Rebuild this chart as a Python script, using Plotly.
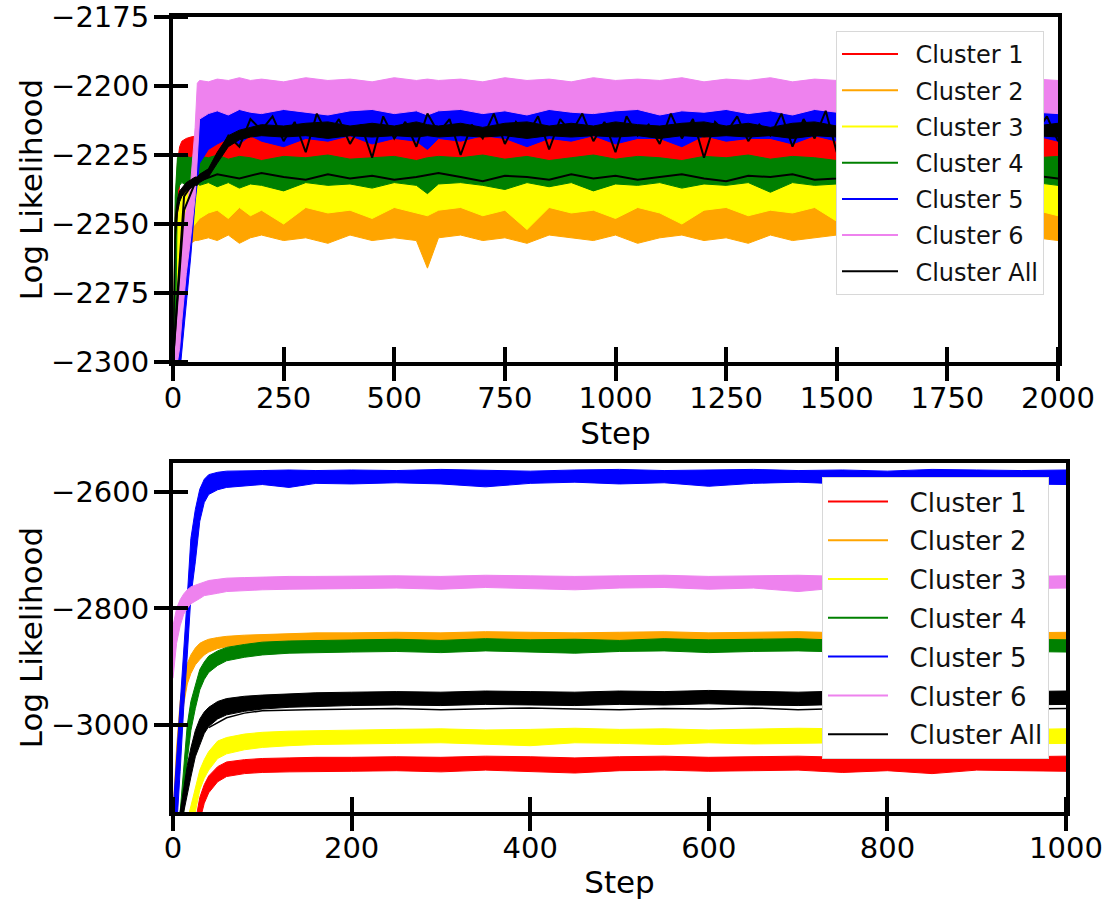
import plotly.graph_objects as go

# ---------------- labels / colours ----------------
CLUSTERS = ["Cluster 1", "Cluster 2", "Cluster 3", "Cluster 4", "Cluster 5", "Cluster 6", "Cluster All"]
COLORS = ["#ff0000", "#ffa500", "#ffff00", "#008000", "#0000ff", "#ee82ee", "#000000"]

TOP_X_TICKS = [0, 250, 500, 750, 1000, 1250, 1500, 1750, 2000]
TOP_Y_TICKS = [-2300, -2275, -2250, -2225, -2200, -2175]
BOT_X_TICKS = [0, 200, 400, 600, 800, 1000]
BOT_Y_TICKS = [-3000, -2800, -2600]

# ---------------- top panel: envelope of each cluster's trace ----------------
TOP_STEPS = [0, 5, 10, 15, 20, 30, 40, 50, 55, 60, 80, 100, 125, 150, 175, 200, 250, 300, 350,
             400, 450, 500, 550, 575, 600] + list(range(650, 2001, 50))

T_RED_UP = [-2300, -2245, -2228, -2222, -2220, -2219, -2218.5, -2218, -2218, -2218,
            -2217, -2218, -2217, -2217.5, -2218, -2217, -2217.5, -2218, -2217, -2217.5, -2218, -2217, -2217.5, -2218, -2217,
            -2217.5, -2218, -2217, -2217.5, -2218, -2217, -2217.5, -2218, -2217, -2217.5, -2218, -2217, -2217.5, -2218,
            -2217, -2217.5, -2218, -2217, -2217.5, -2218, -2217, -2217.5, -2218, -2217, -2217.5, -2218, -2217, -2217.5]
T_RED_LO = [-2310, -2290, -2250, -2235, -2230, -2229, -2228, -2228, -2228, -2228,
            -2228, -2229, -2228, -2228.5, -2229, -2228, -2228.5, -2229, -2228, -2228.5, -2229, -2228, -2228.5, -2229, -2228,
            -2228.5, -2229, -2228, -2228.5, -2229, -2228, -2228.5, -2229, -2228, -2228.5, -2229, -2228, -2228.5, -2229,
            -2228, -2228.5, -2229, -2228, -2228.5, -2229, -2228, -2228.5, -2229, -2228, -2228.5, -2229, -2228, -2228.5]

T_ORANGE_UP = [-2310, -2280, -2262, -2252, -2245, -2240, -2239, -2238, -2238, -2238,
               -2238, -2238.5, -2238, -2238.5, -2238, -2238.5, -2238, -2238.5, -2238, -2238.5, -2238, -2238.5, -2238, -2238.5, -2238,
               -2238.5, -2238, -2238.5, -2238, -2238.5, -2238, -2238.5, -2238, -2238.5, -2238, -2238.5, -2238, -2238.5, -2238,
               -2238.5, -2238, -2238.5, -2238, -2238.5, -2238, -2238.5, -2238, -2238.5, -2238, -2238.5, -2238, -2238.5, -2238]
T_ORANGE_LO = [-2320, -2300, -2285, -2270, -2262, -2258, -2257, -2256, -2256, -2256,
               -2255, -2256, -2254, -2257, -2255, -2254, -2256, -2255, -2257, -2254, -2256, -2255, -2256, -2266, -2255,
               -2254, -2256, -2255, -2257, -2254, -2255, -2256, -2254, -2257, -2255, -2254, -2256, -2255, -2257,
               -2254, -2256, -2255, -2254, -2257, -2255, -2256, -2254, -2255, -2257, -2254, -2256, -2255, -2256]

T_YELLOW_UP = [-2305, -2270, -2250, -2243, -2240, -2237, -2235, -2234, -2233, -2233,
               -2233, -2233.5, -2233, -2232.5, -2233, -2233.5, -2233, -2232.5, -2233, -2233.5, -2233, -2232.5, -2233, -2233.5, -2233,
               -2232.5, -2233, -2233.5, -2233, -2232.5, -2233, -2233.5, -2233, -2232.5, -2233, -2233.5, -2233, -2232.5, -2233,
               -2233.5, -2233, -2232.5, -2233, -2233.5, -2233, -2232.5, -2233, -2233.5, -2233, -2232.5, -2233, -2233.5, -2233]
T_YELLOW_LO = [-2315, -2300, -2275, -2260, -2255, -2254, -2252, -2250, -2249, -2248,
               -2246, -2245, -2248, -2244, -2247, -2245, -2250, -2244, -2246, -2245, -2248, -2244, -2246, -2247, -2245,
               -2244, -2247, -2245, -2252, -2244, -2246, -2245, -2248, -2244, -2246, -2250, -2245, -2244, -2247,
               -2245, -2246, -2244, -2249, -2245, -2246, -2244, -2247, -2245, -2251, -2244, -2246, -2245, -2247]

T_GREEN_UP = [-2300, -2240, -2226, -2225, -2226, -2225.5, -2226, -2225, -2226, -2225.5,
              -2226, -2225, -2226.5, -2225.5, -2226, -2227, -2225.5, -2226, -2225, -2226.5, -2226, -2225.5, -2227, -2226, -2225.5,
              -2226, -2225, -2226.5, -2225.5, -2227, -2226, -2225, -2226.5, -2225.5, -2226, -2227, -2225.5, -2226, -2225,
              -2226.5, -2225.5, -2226, -2227, -2225, -2226, -2225.5, -2226.5, -2226, -2225, -2227, -2225.5, -2226, -2225.5]
T_GREEN_LO = [-2310, -2300, -2238, -2236, -2235, -2236, -2235.5, -2236, -2235, -2236,
              -2235, -2236.5, -2235, -2237, -2235.5, -2236, -2238, -2235, -2236, -2235.5, -2237, -2235, -2236, -2239, -2235.5,
              -2235, -2236, -2237.5, -2235, -2236.5, -2235, -2238, -2235.5, -2236, -2235, -2237, -2235.5, -2236, -2235,
              -2238.5, -2235, -2236, -2235.5, -2237, -2235, -2236.5, -2235, -2236, -2238, -2235, -2236.5, -2235, -2236]

T_BLUE_UP = [-2320, -2315, -2300, -2285, -2272, -2255, -2238, -2220, -2214, -2210,
             -2207, -2206, -2206, -2205, -2206, -2205, -2206, -2205, -2206, -2205, -2206, -2205, -2206, -2205, -2206,
             -2205, -2206, -2205, -2206, -2205, -2206, -2205, -2206, -2205, -2206, -2205, -2206, -2205, -2206,
             -2205, -2206, -2205, -2206, -2205, -2206, -2205, -2206, -2205, -2206, -2205, -2206, -2205, -2206]
T_BLUE_LO = [-2330, -2325, -2315, -2305, -2298, -2280, -2262, -2242, -2235, -2228,
             -2223, -2221, -2219, -2221, -2218, -2220, -2222, -2219, -2220, -2218, -2221, -2219, -2220, -2223, -2219,
             -2220, -2218, -2219, -2222, -2219, -2220, -2218, -2221, -2219, -2219, -2222, -2218, -2220, -2219,
             -2219, -2221, -2218, -2220, -2219, -2222, -2219, -2218, -2220, -2219, -2221, -2219, -2218, -2220]

T_PINK_UP = [-2300, -2290, -2275, -2262, -2255, -2245, -2235, -2215, -2199, -2198,
             -2198.5, -2197.5, -2198, -2197, -2198, -2197.5, -2198.5, -2197, -2198, -2197.5, -2198.5, -2197, -2198, -2197.5, -2198,
             -2197.5, -2198.5, -2197, -2198, -2197.5, -2198.5, -2197, -2198, -2197.5, -2198, -2197, -2198.5, -2197.5, -2198,
             -2197, -2198.5, -2197.5, -2198, -2197, -2198.5, -2197.5, -2198, -2197.5, -2198.5, -2197, -2198, -2197.5, -2198]
T_PINK_LO = [-2310, -2305, -2300, -2295, -2285, -2268, -2255, -2240, -2228, -2212,
             -2210, -2209, -2210.5, -2208.5, -2209.5, -2210, -2208.5, -2209.5, -2210.5, -2209, -2208.5, -2210, -2209, -2210.5, -2209,
             -2208.5, -2210, -2209, -2210.5, -2208.5, -2209.5, -2210, -2209, -2208.5, -2210.5, -2209, -2209.5, -2208.5, -2210,
             -2209, -2210.5, -2208.5, -2209.5, -2210, -2209, -2208.5, -2210.5, -2209, -2209.5, -2210, -2208.5, -2209.5, -2210]

# dense core of the "Cluster All" trace in the top panel
T_ALL_UP = [-2300, -2248, -2241, -2238, -2237, -2235, -2234, -2233, -2233, -2232,
            -2230, -2224, -2218, -2216, -2215, -2214, -2214.5, -2213.5, -2213, -2214.5, -2213.5, -2214.5, -2213, -2214, -2214.5,
            -2213.5, -2215, -2213.5, -2213, -2214.5, -2213.5, -2214.5, -2213, -2214, -2214.5, -2213.5, -2213, -2214.5, -2213.5,
            -2215, -2213.5, -2213, -2214.5, -2213.5, -2214, -2214.5, -2213, -2213.5, -2214.5, -2214, -2213, -2214.5, -2213.5]
T_ALL_LO = [-2310, -2256, -2246, -2242, -2240, -2238, -2237, -2236, -2236, -2235,
            -2233, -2228, -2222, -2219.5, -2218.5, -2218, -2218.5, -2218, -2219, -2218, -2218.5, -2218, -2218.5, -2218, -2218.5,
            -2218, -2218.5, -2218, -2219, -2218, -2218.5, -2218, -2218.5, -2218, -2219, -2218, -2218.5, -2218, -2218.5,
            -2218, -2219, -2218, -2218.5, -2218, -2218.5, -2218, -2219, -2218, -2218.5, -2218, -2218.5, -2218, -2218.5]

# "Cluster All" chains in the top panel (thin noisy lines)
TOP_CHAIN_A_STEPS = list(range(0, 2001, 25))
T_ALL_A = [-2300, -2240, -2234, -2232, -2226, -2218, -2222, -2212, -2216,
           -2211, -2220, -2213, -2224, -2210, -2218, -2212, -2221, -2214, -2226, -2211, -2219,
           -2213, -2222, -2210, -2217, -2212, -2225, -2214, -2219, -2210, -2221, -2213, -2218,
           -2211, -2223, -2212, -2217, -2210, -2220, -2213, -2224, -2211, -2218, -2214, -2221,
           -2210, -2219, -2212, -2226, -2213, -2217, -2211, -2220, -2214, -2218, -2210, -2222,
           -2212, -2219, -2209, -2224, -2212, -2218, -2211, -2221, -2213, -2217, -2210, -2220,
           -2212, -2225, -2211, -2218, -2213, -2221, -2210, -2219, -2212, -2217, -2211, -2220]
TOP_CHAIN_B_STEPS = [0, 25, 50] + list(range(100, 2001, 50))
T_ALL_B = [-2300, -2245, -2235,
           -2232, -2233.5, -2231.5, -2233, -2234, -2232, -2233.5, -2232.5, -2234, -2233, -2231.5, -2233, -2234.5,
           -2232.5, -2233, -2234, -2232, -2233.5, -2232.5, -2234, -2233, -2232, -2233.5, -2234.5, -2232.5, -2233,
           -2232, -2234, -2233.5, -2232.5, -2233, -2234, -2232, -2233.5, -2232.5, -2234, -2233, -2232.5, -2233.5]

# ---------------- bottom panel ----------------
BOT_STEPS = [0, 4, 8, 12, 16, 20, 25, 30, 35, 40, 50, 60, 80, 100, 130, 160] + list(range(200, 1001, 50))

B_RED_UP = [-3300, -3290, -3280, -3260, -3240, -3210, -3165, -3125, -3103, -3088, -3072, -3064, -3060, -3058, -3057, -3056,
            -3056, -3055, -3056, -3054, -3055, -3057, -3055, -3054, -3056, -3055, -3054, -3056, -3055, -3054, -3056, -3055, -3054]
B_RED_LO = [-3350, -3340, -3330, -3320, -3300, -3270, -3220, -3165, -3135, -3117, -3098, -3089, -3084, -3082, -3081, -3080,
            -3080, -3079, -3081, -3078, -3080, -3083, -3079, -3078, -3080, -3079, -3078, -3082, -3079, -3084, -3078, -3079, -3080]

B_ORANGE_UP = [-3150, -3040, -2960, -2920, -2895, -2880, -2868, -2860, -2856, -2853, -2850, -2848, -2846, -2845, -2843, -2842,
               -2842, -2841, -2842, -2840, -2841, -2842, -2841, -2840, -2842, -2841, -2840, -2842, -2841, -2840, -2841, -2842, -2841]
B_ORANGE_LO = [-3250, -3150, -3030, -2965, -2930, -2912, -2897, -2888, -2880, -2875, -2869, -2866, -2862, -2860, -2858, -2858,
               -2857, -2857, -2858, -2856, -2857, -2858, -2857, -2856, -2858, -2857, -2856, -2858, -2857, -2856, -2857, -2858, -2857]

B_YELLOW_UP = [-3250, -3230, -3220, -3200, -3165, -3140, -3105, -3078, -3060, -3046, -3028, -3022, -3016, -3013, -3011, -3010,
               -3009, -3008, -3007, -3009, -3008, -3006, -3008, -3007, -3009, -3008, -3006, -3007, -3008, -3009, -3007, -3008, -3007]
B_YELLOW_LO = [-3300, -3290, -3280, -3260, -3230, -3190, -3150, -3112, -3092, -3078, -3058, -3050, -3043, -3039, -3036, -3034,
               -3033, -3032, -3031, -3033, -3036, -3031, -3032, -3034, -3031, -3033, -3032, -3031, -3034, -3032, -3031, -3033, -3032]

B_GREEN_UP = [-3200, -3170, -3150, -3070, -3000, -2960, -2930, -2905, -2892, -2882, -2873, -2867, -2862, -2858, -2856, -2855,
              -2854, -2853, -2855, -2852, -2854, -2853, -2855, -2852, -2854, -2853, -2852, -2855, -2853, -2854, -2852, -2853, -2854]
B_GREEN_LO = [-3260, -3230, -3200, -3150, -3060, -3010, -2972, -2940, -2922, -2910, -2898, -2890, -2884, -2880, -2877, -2876,
              -2875, -2874, -2876, -2873, -2875, -2877, -2874, -2873, -2876, -2874, -2873, -2875, -2874, -2876, -2873, -2874, -2875]

B_BLUE_UP = [-3150, -3060, -2960, -2870, -2780, -2680, -2630, -2595, -2578, -2570, -2566, -2564, -2563, -2563, -2562, -2563,
             -2562, -2563, -2561, -2562, -2564, -2562, -2561, -2563, -2562, -2561, -2563, -2562, -2564, -2561, -2562, -2563, -2562]
B_BLUE_LO = [-3200, -3180, -3080, -2970, -2880, -2780, -2720, -2650, -2618, -2604, -2596, -2592, -2589, -2587, -2592, -2585,
             -2586, -2584, -2586, -2591, -2585, -2583, -2586, -2584, -2590, -2585, -2583, -2586, -2584, -2585, -2583, -2586, -2587]

B_PINK_UP = [-2830, -2800, -2785, -2775, -2768, -2763, -2760, -2757, -2754, -2752, -2750, -2748, -2747, -2746, -2745, -2745,
             -2744, -2744, -2745, -2743, -2744, -2745, -2744, -2743, -2745, -2744, -2743, -2745, -2744, -2744, -2743, -2745, -2744]
B_PINK_LO = [-2920, -2860, -2830, -2810, -2800, -2792, -2787, -2783, -2778, -2776, -2774, -2771, -2769, -2768, -2767, -2766,
             -2766, -2765, -2767, -2764, -2766, -2768, -2765, -2764, -2767, -2765, -2771, -2764, -2766, -2765, -2764, -2766, -2765]

B_ALL_UP = [-3200, -3180, -3150, -3110, -3070, -3040, -3010, -2990, -2978, -2970, -2960, -2955, -2951, -2949, -2947, -2945,
            -2944, -2943, -2944, -2942, -2943, -2944, -2942, -2943, -2941, -2943, -2944, -2942, -2943, -2942, -2944, -2943, -2942]
B_ALL_LO = [-3260, -3240, -3200, -3150, -3120, -3090, -3055, -3035, -3015, -3003, -2990, -2983, -2977, -2973, -2970, -2968,
            -2967, -2966, -2967, -2965, -2966, -2967, -2965, -2966, -2964, -2966, -2967, -2965, -2966, -2965, -2967, -2966, -2965]
BOT_THIN_STEPS = [40, 60, 80, 100, 150] + list(range(200, 1001, 50))
B_ALL_THIN = [-3005, -2988, -2980, -2976, -2974,
              -2973, -2972, -2974, -2973, -2971, -2973, -2974, -2972, -2973, -2971, -2974, -2972, -2973, -2974, -2972, -2973, -2972]

TOP_BANDS = [(T_RED_UP, T_RED_LO), (T_ORANGE_UP, T_ORANGE_LO), (T_YELLOW_UP, T_YELLOW_LO),
             (T_GREEN_UP, T_GREEN_LO), (T_BLUE_UP, T_BLUE_LO), (T_PINK_UP, T_PINK_LO), (T_ALL_UP, T_ALL_LO)]
BOT_BANDS = [(B_RED_UP, B_RED_LO), (B_ORANGE_UP, B_ORANGE_LO), (B_YELLOW_UP, B_YELLOW_LO),
             (B_GREEN_UP, B_GREEN_LO), (B_BLUE_UP, B_BLUE_LO), (B_PINK_UP, B_PINK_LO), (B_ALL_UP, B_ALL_LO)]

for up, lo in TOP_BANDS:
    assert len(up) == len(TOP_STEPS) and len(lo) == len(TOP_STEPS)
for up, lo in BOT_BANDS:
    assert len(up) == len(BOT_STEPS) and len(lo) == len(BOT_STEPS)
assert len(T_ALL_A) == len(TOP_CHAIN_A_STEPS)
assert len(T_ALL_B) == len(TOP_CHAIN_B_STEPS)
assert len(B_ALL_THIN) == len(BOT_THIN_STEPS)

FONT = "DejaVu Sans"
fig = go.Figure()


def band(steps, up, lo, color, xa, ya):
    fig.add_trace(go.Scatter(
        x=list(steps) + list(steps)[::-1], y=list(up) + list(lo)[::-1],
        mode="lines", fill="toself", fillcolor=color,
        line=dict(color=color, width=1), showlegend=False, hoverinfo="skip",
        xaxis=xa, yaxis=ya))


# top panel
for i, (up, lo) in enumerate(TOP_BANDS):
    band(TOP_STEPS, up, lo, COLORS[i], "x", "y")
fig.add_trace(go.Scatter(x=TOP_CHAIN_B_STEPS, y=T_ALL_B, mode="lines", line=dict(color="black", width=2),
                         showlegend=False, hoverinfo="skip", xaxis="x", yaxis="y"))
fig.add_trace(go.Scatter(x=TOP_CHAIN_A_STEPS, y=T_ALL_A, mode="lines", line=dict(color="black", width=2),
                         showlegend=False, hoverinfo="skip", xaxis="x", yaxis="y"))

# bottom panel
for i, (up, lo) in enumerate(BOT_BANDS):
    band(BOT_STEPS, up, lo, COLORS[i], "x2", "y2")
fig.add_trace(go.Scatter(x=BOT_THIN_STEPS, y=B_ALL_THIN, mode="lines", line=dict(color="black", width=1.5),
                         showlegend=False, hoverinfo="skip", xaxis="x2", yaxis="y2"))

# legend entries (a small non-breaking pad separates the sample line from the label)
TOP_PAD = "\u00a0\u2009"
BOT_PAD = "\u00a0\u00a0"
for i, name in enumerate(CLUSTERS):
    fig.add_trace(go.Scatter(x=[None], y=[None], mode="lines", line=dict(color=COLORS[i], width=2),
                             name=TOP_PAD + name, legend="legend", legendgroup="t%d" % i, xaxis="x", yaxis="y"))
for i, name in enumerate(CLUSTERS):
    fig.add_trace(go.Scatter(x=[None], y=[None], mode="lines", line=dict(color=COLORS[i], width=2),
                             name=BOT_PAD + name, legend="legend2", legendgroup="b%d" % i, xaxis="x2", yaxis="y2"))

TICKFONT = dict(family=FONT, size=29, color="black")
TITLEFONT = dict(family=FONT, size=31, color="black")


def axis(tickvals, eps, **kw):
    d = dict(showline=True, linewidth=4, linecolor="black", mirror=True, showgrid=False, zeroline=False,
             ticks="outside", ticklen=15, tickwidth=4, tickcolor="black", tickfont=TICKFONT,
             tickmode="array", tickvals=tickvals, automargin=False,
             minor=dict(tickmode="array", tickvals=[v + eps for v in tickvals], ticks="inside",
                        ticklen=15, tickwidth=4, tickcolor="black", showgrid=False))
    d.update(kw)
    return d


W, H = 1111, 900
L, R, T, B = 173, 45, 17, 88
PW, PH = W - L - R, H - T - B

fig.update_layout(
    width=W, height=H,
    margin=dict(l=L, r=R, t=T, b=B),
    paper_bgcolor="white", plot_bgcolor="white",
    font=dict(family=FONT, color="black"),
    xaxis=axis(TOP_X_TICKS, 0.05, domain=[0, (1058 - L) / PW], range=[0, 2000], anchor="y",
               ticklabelstandoff=-8, title=dict(text="Step", font=TITLEFONT, standoff=6)),
    yaxis=axis(TOP_Y_TICKS, 0.01, domain=[(H - B - 362) / PH, 1], range=[-2300, -2175], anchor="x",
               ticklabelstandoff=-1, title=dict(text="Log Likelihood", font=TITLEFONT, standoff=0)),
    xaxis2=axis(BOT_X_TICKS, 0.03, domain=[0, 1], range=[0, 1000], anchor="y2",
                ticklabelstandoff=-8, title=dict(text="Step", font=TITLEFONT, standoff=17)),
    yaxis2=axis(BOT_Y_TICKS, 0.05, domain=[0, (H - B - 463) / PH], range=[-3150, -2550], anchor="x2",
                ticklabelstandoff=-1, title=dict(text="Log Likelihood", font=TITLEFONT, standoff=0)),
    legend=dict(x=(836 - L) / PW, y=(H - B - 31) / PH, xanchor="left", yanchor="top",
                bgcolor="white", bordercolor="#d8d8d8", borderwidth=1,
                font=dict(family=FONT, size=24, color="#111111"), tracegroupgap=2, itemwidth=56),
    legend2=dict(x=(822 - L) / PW, y=(H - B - 477) / PH, xanchor="left", yanchor="top",
                 bgcolor="white", bordercolor="#d8d8d8", borderwidth=1,
                 font=dict(family=FONT, size=26, color="#111111"), tracegroupgap=2, itemwidth=60),
    showlegend=True,
)

fig.write_html("out.html")
